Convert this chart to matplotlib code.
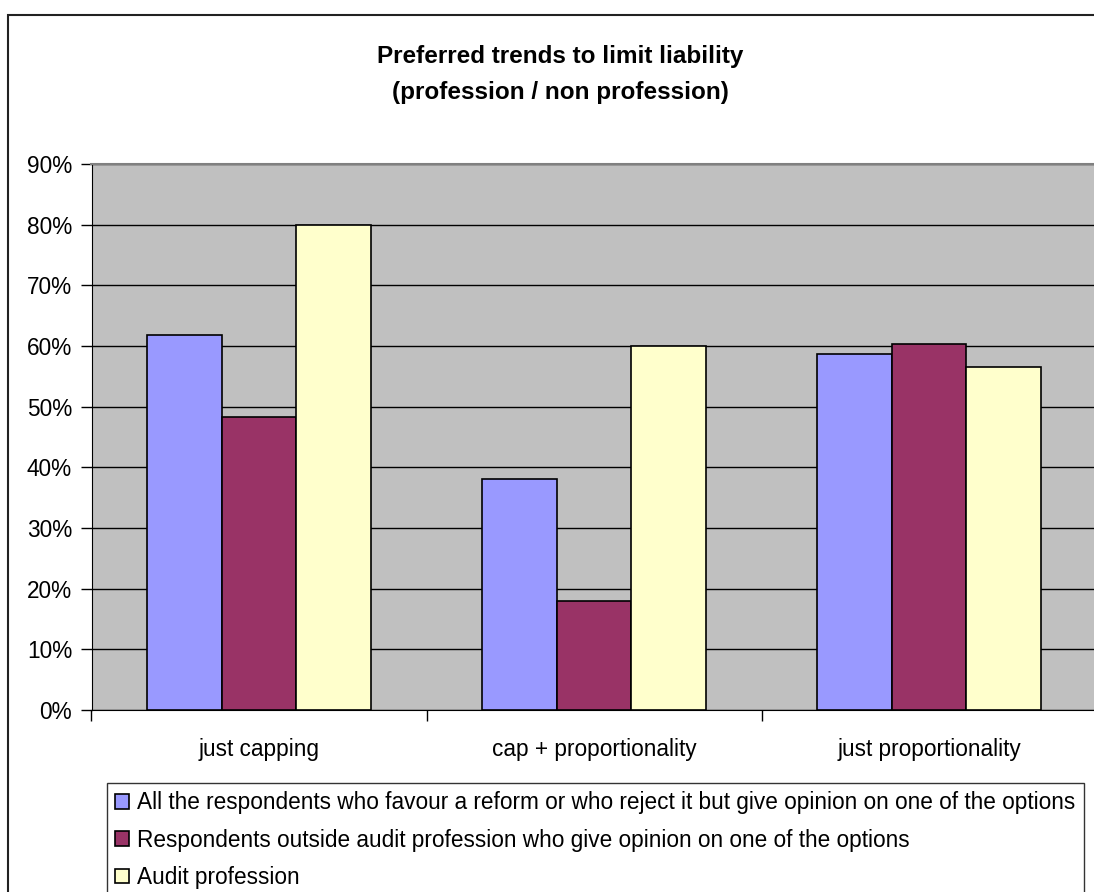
import matplotlib
matplotlib.use("Agg")
import matplotlib.pyplot as plt
import numpy as np
from matplotlib.patches import Rectangle
from matplotlib.ticker import FixedLocator, PercentFormatter

# Categories and series (shares of respondents)
categories = ["just capping", "cap + proportionality", "just proportionality"]
series_names = [
    "All the respondents who favour a reform or who reject it but give opinion on one of the options",
    "Respondents outside audit profession who give opinion on one of the options",
    "Audit profession",
]
all_respondents = [0.618, 0.380, 0.586]
outside_profession = [0.483, 0.180, 0.604]
audit_profession = [0.800, 0.600, 0.566]

colors = ["#9999FF", "#993366", "#FFFFCC"]
title = "Preferred trends to limit liability\n(profession / non profession)"

plt.rcParams["font.family"] = ["Liberation Sans", "DejaVu Sans"]

W, H = 1094, 892
fig = plt.figure(figsize=(W / 100, H / 100), dpi=100)
fig.patch.set_facecolor("white")

# plot area, in pixels: left 91.5, bottom at y=710, top at y=164, width 3 x 335
ax = fig.add_axes([91.5 / W, (H - 710) / H, 1005 / W, 546 / H])
ax.set_facecolor("#C0C0C0")

x = np.arange(len(categories))
bar_w = 1 / 4.5  # excel gap width 150%
values = [all_respondents, outside_profession, audit_profession]
for i, (vals, col, name) in enumerate(zip(values, colors, series_names)):
    ax.bar(x + (i - 1) * bar_w, vals, width=bar_w, color=col,
           edgecolor="black", linewidth=1.2, label=name, zorder=3)

ax.set_xlim(-0.5, 2.5)
ax.set_ylim(0, 0.9)

# y axis
ax.yaxis.set_major_locator(FixedLocator(np.round(np.arange(0, 0.91, 0.1), 2)))
ax.yaxis.set_major_formatter(PercentFormatter(1.0, decimals=0))
ax.tick_params(axis="y", direction="out", length=8, width=1, color="black",
               labelsize=16.3, pad=6)
ax.yaxis.grid(True, color="black", linewidth=1.0, zorder=1)
ax.set_axisbelow(True)

# x axis: ticks on category boundaries, labels centred via minor ticks
ax.xaxis.set_major_locator(FixedLocator([-0.5, 0.5, 1.5, 2.5]))
ax.set_xticklabels([])
ax.xaxis.set_minor_locator(FixedLocator(x))
ax.set_xticklabels(categories, minor=True)
ax.tick_params(axis="x", which="major", direction="out", length=8, width=1, color="black")
ax.tick_params(axis="x", which="minor", length=0, labelsize=16.3, pad=20)

ax.spines["left"].set_color("black")
ax.spines["bottom"].set_color("black")
ax.spines["top"].set_color("#808080")
ax.spines["top"].set_linewidth(1.5)
ax.spines["right"].set_visible(False)

fig.text(560 / W, 1 - 74.5 / H, title, ha="center", va="center",
         fontsize=17.5, fontweight="bold", linespacing=1.7)

leg = ax.legend(loc="upper left", bbox_to_anchor=(107 / W, 1 - 783 / H),
                bbox_transform=fig.transFigure, fontsize=16.3, frameon=True,
                fancybox=False, borderpad=0.36, handlelength=0.62,
                handleheight=0.62, handletextpad=0.35, labelspacing=0.64,
                borderaxespad=0)
leg.get_frame().set_edgecolor("black")
leg.get_frame().set_linewidth(1.0)

# chart border
fig.patches.append(Rectangle((8 / W, -0.05), 1.2, 1 - 15 / H + 0.05,
                             transform=fig.transFigure, fill=False,
                             edgecolor="#222222", linewidth=1.5))

fig.savefig("out.png", dpi=100)
